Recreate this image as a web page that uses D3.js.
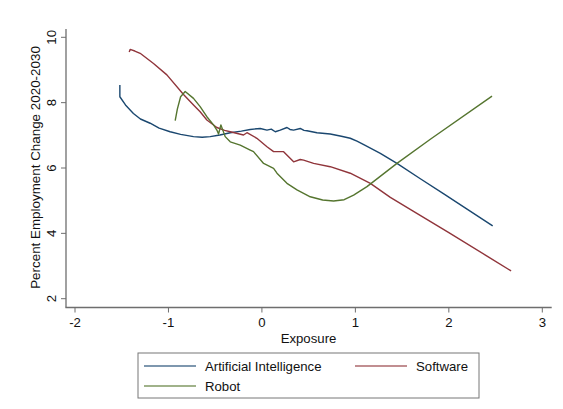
<!DOCTYPE html>
<html>
<head>
<meta charset="utf-8">
<script src="https://cdn.jsdelivr.net/npm/d3@7"></script>
<style>
  body { margin: 0; background: #fff; }
  svg { font-family: "Liberation Sans", Arial, Helvetica, sans-serif; }
</style>
</head>
<body>
<div id="chart"></div>
<script>
// exposure / percent employment change
var aiExposure = [-1.52, -1.52, -1.46, -1.375, -1.30, -1.196, -1.10, -0.982, -0.87, -0.732, -0.64, -0.553,
  -0.45, -0.339, -0.22, -0.125, -0.018, 0.054, 0.10, 0.143, 0.196, 0.268, 0.30, 0.339, 0.41, 0.45, 0.482,
  0.589, 0.731, 0.85, 0.945, 1.017, 1.10, 1.267, 1.445, 1.695, 1.95, 2.195, 2.469];
var aiChange = [8.54, 8.18, 7.93, 7.67, 7.50, 7.37, 7.22, 7.11, 7.03, 6.96, 6.94, 6.96,
  7.01, 7.08, 7.13, 7.18, 7.21, 7.16, 7.19, 7.11, 7.16, 7.24, 7.18, 7.16, 7.21, 7.15, 7.14,
  7.08, 7.04, 6.97, 6.91, 6.82, 6.70, 6.45, 6.14, 5.67, 5.20, 4.74, 4.23];

var softwareExposure = [-1.42, -1.41, -1.36, -1.303, -1.16, -1.017, -0.839, -0.732, -0.661, -0.589, -0.482,
  -0.40, -0.339, -0.197, -0.16, -0.054, 0.054, 0.125, 0.232, 0.339, 0.41, 0.446, 0.553, 0.731, 0.945,
  1.16, 1.374, 1.60, 2.00, 2.40, 2.666];
var softwareChange = [9.55, 9.63, 9.58, 9.51, 9.20, 8.85, 8.25, 7.93, 7.72, 7.47, 7.24,
  7.15, 7.11, 7.01, 7.08, 6.91, 6.65, 6.50, 6.50, 6.19, 6.26, 6.24, 6.14, 6.04, 5.84,
  5.53, 5.10, 4.71, 4.02, 3.32, 2.85];

var robotExposure = [-0.928, -0.905, -0.87, -0.821, -0.732, -0.661, -0.589, -0.518, -0.482, -0.464, -0.439,
  -0.393, -0.339, -0.232, -0.125, -0.09, 0.018, 0.125, 0.161, 0.268, 0.375, 0.517, 0.65, 0.767, 0.88,
  0.981, 1.124, 1.445, 1.802, 2.462];
var robotChange = [7.45, 7.80, 8.18, 8.34, 8.13, 7.88, 7.57, 7.32, 7.16, 7.04, 7.32,
  6.96, 6.80, 6.70, 6.55, 6.50, 6.14, 5.99, 5.84, 5.53, 5.33, 5.12, 5.02, 4.99, 5.03,
  5.17, 5.43, 6.14, 6.88, 8.20];

var xTicks = [-2, -1, 0, 1, 2, 3];
var yTicks = [2, 4, 6, 8, 10];

var series = [
  { name: 'Artificial Intelligence', xs: aiExposure, ys: aiChange, color: '#1a476f' },
  { name: 'Software', xs: softwareExposure, ys: softwareChange, color: '#90353b' },
  { name: 'Robot', xs: robotExposure, ys: robotChange, color: '#55752f' }
];

var width = 563, height = 409;
var fontSize = 13.2;
var svg = d3.select('#chart').append('svg')
  .attr('width', width)
  .attr('height', height);

var x = d3.scaleLinear().domain([-2, 3]).range([75, 542.3]);
var y = d3.scaleLinear().domain([2, 10]).range([298.7, 37.3]);
var axisColor = '#6e6e6e';

// left axis
var yAxis = svg.append('g').attr('transform', 'translate(66,0)');
yAxis.append('line')
  .attr('x1', 0).attr('x2', 0)
  .attr('y1', 29).attr('y2', 307.5)
  .attr('stroke', axisColor).attr('stroke-width', 1.3);
yTicks.forEach(function (t) {
  yAxis.append('line')
    .attr('x1', -5).attr('x2', 0)
    .attr('y1', y(t)).attr('y2', y(t))
    .attr('stroke', axisColor).attr('stroke-width', 1);
  yAxis.append('text')
    .attr('transform', 'translate(-10.5,' + y(t) + ') rotate(-90)')
    .attr('text-anchor', 'middle')
    .attr('font-size', fontSize)
    .attr('fill', '#111')
    .text(t);
});

// bottom axis
var xAxis = svg.append('g').attr('transform', 'translate(0,307.5)');
xAxis.append('line')
  .attr('x1', 65.4).attr('x2', 551.7)
  .attr('y1', 0).attr('y2', 0)
  .attr('stroke', axisColor).attr('stroke-width', 1.3);
xTicks.forEach(function (t) {
  xAxis.append('line')
    .attr('x1', x(t)).attr('x2', x(t))
    .attr('y1', 0).attr('y2', 5)
    .attr('stroke', axisColor).attr('stroke-width', 1);
  xAxis.append('text')
    .attr('x', x(t)).attr('y', 19.8)
    .attr('text-anchor', 'middle')
    .attr('font-size', fontSize)
    .attr('fill', '#111')
    .text(t);
});

svg.append('text')
  .attr('x', 308.5).attr('y', 343)
  .attr('text-anchor', 'middle')
  .attr('font-size', fontSize)
  .attr('fill', '#111')
  .text('Exposure');

svg.append('text')
  .attr('transform', 'translate(40,167.5) rotate(-90)')
  .attr('text-anchor', 'middle')
  .attr('font-size', 13.4)
  .attr('fill', '#111')
  .text('Percent Employment Change 2020-2030');

// curves
var line = d3.line()
  .x(function (d) { return x(d[0]); })
  .y(function (d) { return y(d[1]); })
  .curve(d3.curveLinear);

series.forEach(function (s) {
  var pts = s.xs.map(function (v, i) { return [v, s.ys[i]]; });
  svg.append('path')
    .datum(pts)
    .attr('fill', 'none')
    .attr('stroke', s.color)
    .attr('stroke-width', 1.4)
    .attr('stroke-linejoin', 'round')
    .attr('d', line);
});

// legend
var legend = svg.append('g');
legend.append('rect')
  .attr('x', 138).attr('y', 353)
  .attr('width', 341).attr('height', 45)
  .attr('fill', '#fff')
  .attr('stroke', '#777').attr('stroke-width', 1);

var legendItems = [
  { s: series[0], lx: 144, ly: 366 },
  { s: series[1], lx: 355, ly: 366 },
  { s: series[2], lx: 144, ly: 386 }
];
legendItems.forEach(function (d) {
  legend.append('line')
    .attr('x1', d.lx).attr('x2', d.lx + 52)
    .attr('y1', d.ly).attr('y2', d.ly)
    .attr('stroke', d.s.color).attr('stroke-width', 1.3)
    .attr('stroke-opacity', 0.75);
  legend.append('text')
    .attr('x', d.lx + 61).attr('y', d.ly + 4.7)
    .attr('font-size', fontSize)
    .attr('fill', '#111')
    .text(d.s.name);
});
</script>
</body>
</html>
